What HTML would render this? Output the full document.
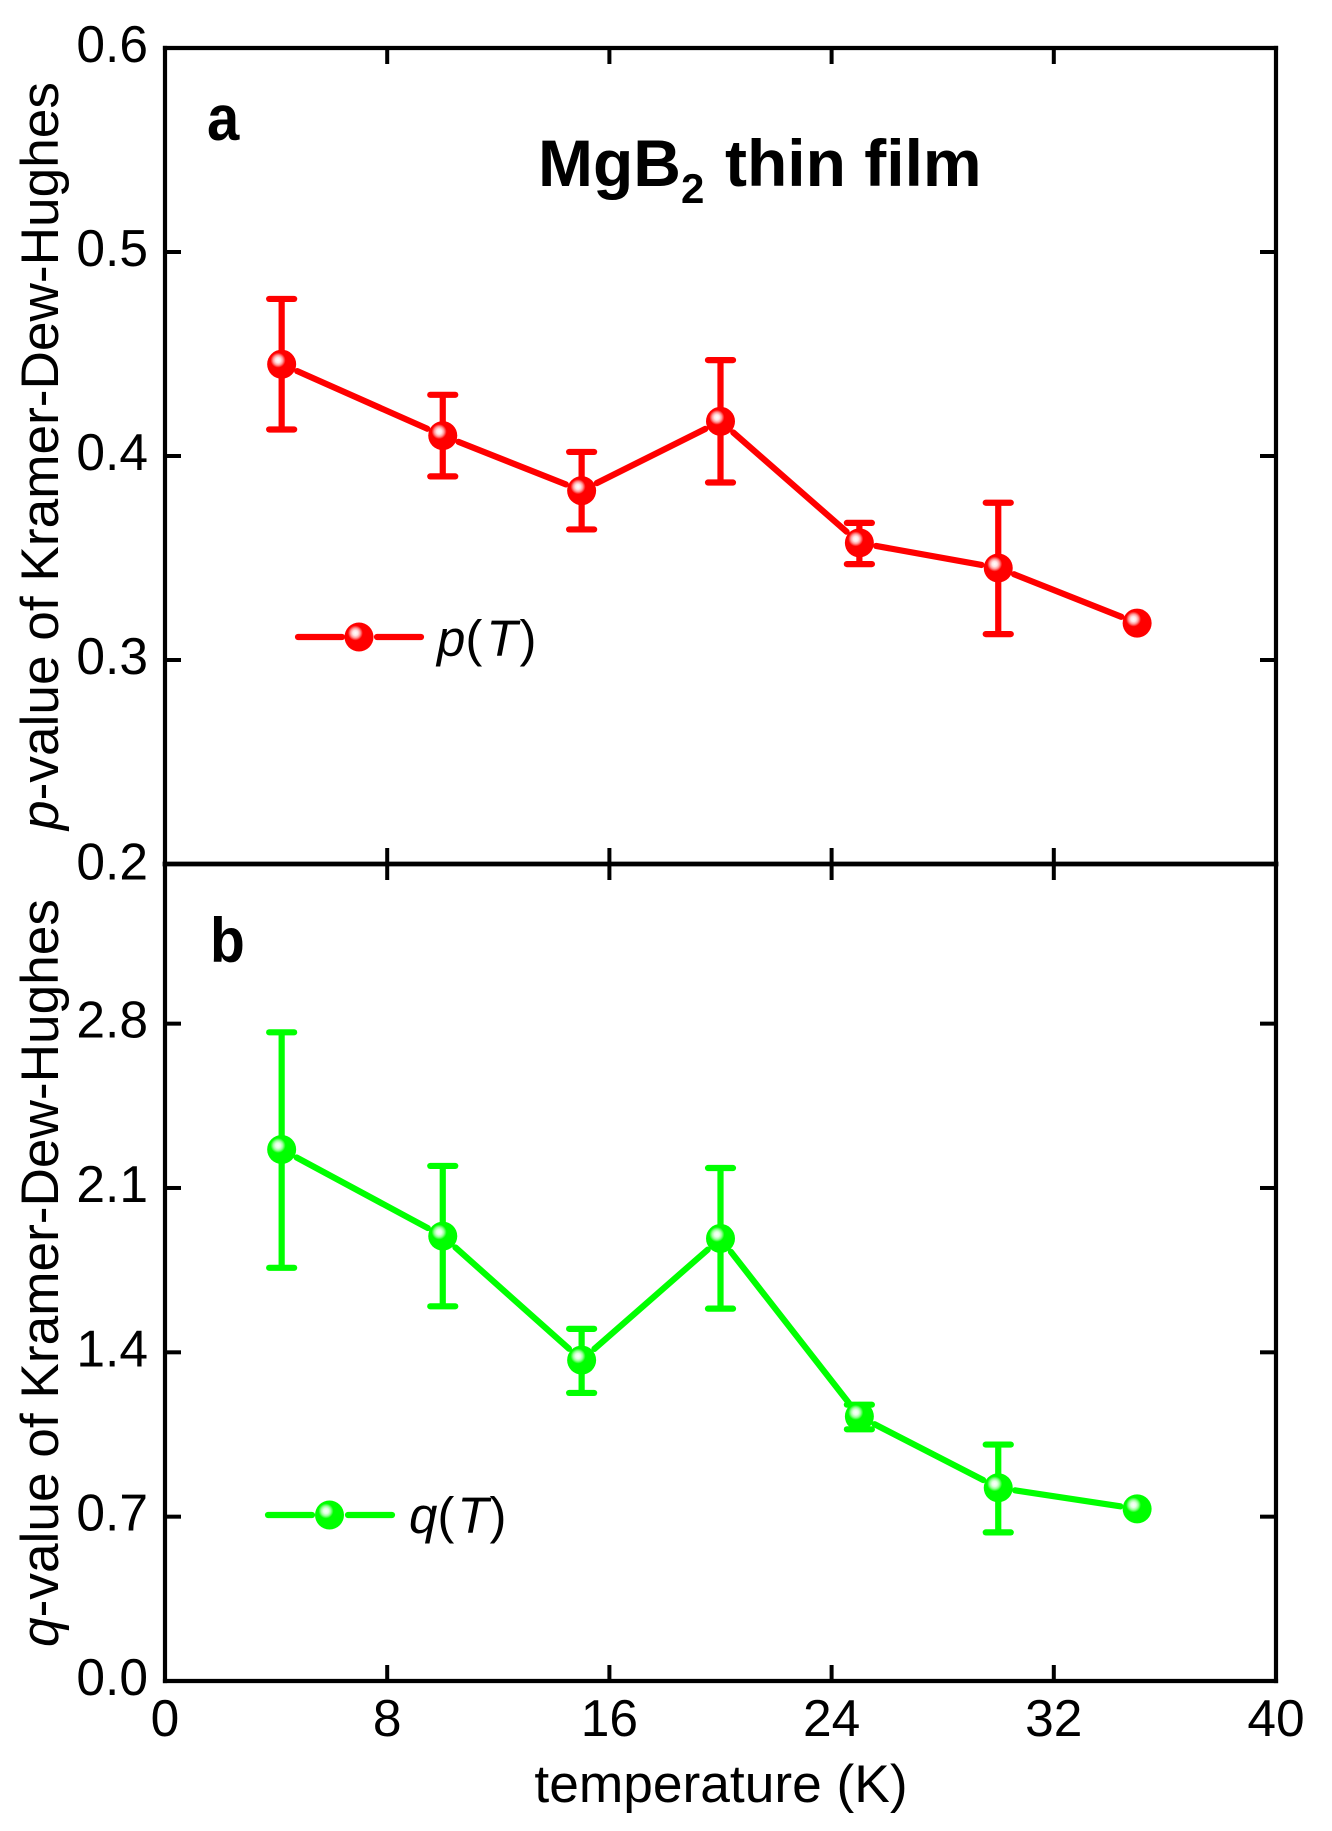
<!DOCTYPE html>
<html lang="en">
<head>
<meta charset="utf-8">
<title>MgB2 thin film Kramer-Dew-Hughes p and q values</title>
<style>
html,body{margin:0;padding:0;background:#fff;}
svg{display:block;font-family:"Liberation Sans",Arial,sans-serif;}
</style>
</head>
<body>
<svg id="chart" xmlns="http://www.w3.org/2000/svg" width="1332" height="1831" viewBox="0 0 1332 1831">
  <defs>
    <radialGradient id="redShine">
      <stop offset="0" stop-color="#ffffff"/>
      <stop offset="0.35" stop-color="#ffe6e6"/>
      <stop offset="0.65" stop-color="#ff9999"/>
      <stop offset="1" stop-color="#ff0000"/>
    </radialGradient>
    <radialGradient id="greenShine">
      <stop offset="0" stop-color="#ffffff"/>
      <stop offset="0.35" stop-color="#e6ffe6"/>
      <stop offset="0.65" stop-color="#99ff99"/>
      <stop offset="1" stop-color="#00ff00"/>
    </radialGradient>
  </defs>
  <rect width="1332" height="1831" fill="#fff"/>
  <g id="marks"></g>
  <g id="axes"></g>

  <text transform="translate(207,140) scale(1,1.1)" font-size="58" font-weight="bold">a</text>
  <text transform="translate(210,962) scale(1,1.1)" font-size="57" font-weight="bold">b</text>

  <text y="186" font-weight="bold" font-size="66" fill="#000"><tspan x="538">MgB</tspan><tspan x="681" y="203" font-size="42">2</tspan><tspan x="725" y="186">thin film</tspan></text>

  <text transform="translate(58,456) rotate(-90)" text-anchor="middle" font-size="53.2" fill="#000"><tspan font-style="italic">p</tspan>-value of Kramer-Dew-Hughes</text>
  <text transform="translate(58,1273) rotate(-90)" text-anchor="middle" font-size="53.2" fill="#000"><tspan font-style="italic">q</tspan>-value of Kramer-Dew-Hughes</text>
  <text x="721" y="1802" text-anchor="middle" font-size="53.3" fill="#000">temperature (K)</text>

  <g id="legend-p">
    <line x1="298" y1="637" x2="342" y2="637" stroke="#ff0000" stroke-width="6.2" stroke-linecap="round"/>
    <line x1="377" y1="637" x2="421" y2="637" stroke="#ff0000" stroke-width="6.2" stroke-linecap="round"/>
    <circle cx="359" cy="637" r="14.5" fill="#ff0000"/>
    <circle cx="355.4" cy="633" r="7.5" fill="url(#redShine)"/>
    <text x="437" y="656" font-size="51" fill="#000"><tspan font-style="italic">p</tspan><tspan>(</tspan><tspan dx="4" font-style="italic">T</tspan><tspan dx="2">)</tspan></text>
  </g>
  <g id="legend-q">
    <line x1="268" y1="1515" x2="312" y2="1515" stroke="#00ff00" stroke-width="6.2" stroke-linecap="round"/>
    <line x1="348" y1="1515" x2="392" y2="1515" stroke="#00ff00" stroke-width="6.2" stroke-linecap="round"/>
    <circle cx="329.5" cy="1515" r="14.5" fill="#00ff00"/>
    <circle cx="326" cy="1511" r="7.5" fill="url(#greenShine)"/>
    <text x="409" y="1533" font-size="51" fill="#000"><tspan font-style="italic">q</tspan><tspan>(</tspan><tspan dx="3" font-style="italic">T</tspan><tspan dx="1">)</tspan></text>
  </g>
</svg>
<script>
// ---- chart data ----
const temperatures = [4.2, 10, 15, 20, 25, 30, 35];
const pValues = [0.445, 0.410, 0.383, 0.417, 0.3574, 0.3451, 0.3181];
const pErrUpper = [0.477, 0.430, 0.402, 0.447, 0.3672, 0.3771, 0.3181];
const pErrLower = [0.413, 0.390, 0.364, 0.387, 0.3470, 0.3127, 0.3181];
const qValues = [2.264, 1.895, 1.367, 1.885, 1.127, 0.823, 0.733];
const qErrUpper = [2.763, 2.194, 1.500, 2.185, 1.177, 1.007, 0.733];
const qErrLower = [1.760, 1.596, 1.227, 1.586, 1.072, 0.633, 0.733];
const xTicks = [0, 8, 16, 24, 32, 40];
const pTicks = [0.2, 0.3, 0.4, 0.5, 0.6];
const qTicks = [0.0, 0.7, 1.4, 2.1, 2.8];

const SVGNS = 'http://www.w3.org/2000/svg';
const plotLeft = 165, plotRight = 1276, plotTop = 48, plotMid = 864, plotBottom = 1681;
const xMin = 0, xMax = 40, pMin = 0.2, pMax = 0.6, qMin = 0, qMax = 3.48;
function xAxis(v) { return plotLeft + (v - xMin) / (xMax - xMin) * (plotRight - plotLeft); }
function pAxis(v) { return plotMid - (v - pMin) / (pMax - pMin) * (plotMid - plotTop); }
function qAxis(v) { return plotBottom - (v - qMin) / (qMax - qMin) * (plotBottom - plotMid); }

function make(tag, parent) {
  const el = document.createElementNS(SVGNS, tag);
  parent.appendChild(el);
  return el;
}
function drawLine(parent, x1, y1, x2, y2, color, width, cap) {
  const el = make('line', parent);
  el.setAttribute('x1', x1);
  el.setAttribute('y1', y1);
  el.setAttribute('x2', x2);
  el.setAttribute('y2', y2);
  el.setAttribute('stroke', color);
  el.setAttribute('stroke-width', width);
  el.setAttribute('stroke-linecap', cap);
  return el;
}
function drawSeries(prefix, values, upper, lower, yAxis, color, shine) {
  const marks = document.getElementById('marks');
  const trim = 17;
  const lineWidth = 6.2;
  // connecting segments, stopped short of each marker
  for (let i = 0; i < values.length - 1; i++) {
    const x1 = xAxis(temperatures[i]), y1 = yAxis(values[i]);
    const x2 = xAxis(temperatures[i + 1]), y2 = yAxis(values[i + 1]);
    const len = Math.hypot(x2 - x1, y2 - y1);
    const ux = (x2 - x1) / len, uy = (y2 - y1) / len;
    const seg = drawLine(marks, x1 + ux * trim, y1 + uy * trim, x2 - ux * trim, y2 - uy * trim, color, lineWidth, 'round');
    
    
  }
  for (let i = 0; i < values.length; i++) {
    const cx = xAxis(temperatures[i]), cy = yAxis(values[i]);
    const top = yAxis(upper[i]), bottom = yAxis(lower[i]);
    const stem = drawLine(marks, cx, top, cx, bottom, color, lineWidth, 'butt');
    
    
    if (cy - top > 3) {
      const capTop = drawLine(marks, cx - 12.5, top, cx + 12.5, top, color, lineWidth, 'round');
      
      
    }
    if (bottom - cy > 3) {
      const capBottom = drawLine(marks, cx - 12.5, bottom, cx + 12.5, bottom, color, lineWidth, 'round');
      
      
    }
    const dot = make('circle', marks);
    dot.setAttribute('cx', cx);
    dot.setAttribute('cy', cy);
    dot.setAttribute('r', 14.5);
    dot.setAttribute('fill', color);
    
    
    const glint = make('circle', marks);
    glint.setAttribute('cx', cx - 3.6);
    glint.setAttribute('cy', cy - 4);
    glint.setAttribute('r', 7.5);
    glint.setAttribute('fill', 'url(#' + shine + ')');
    
    
  }
}
drawSeries('p-series', pValues, pErrUpper, pErrLower, pAxis, '#ff0000', 'redShine');
drawSeries('q-series', qValues, qErrUpper, qErrLower, qAxis, '#00ff00', 'greenShine');

const axes = document.getElementById('axes');
function frame(x1, y1, x2, y2, width, name) {
  const el = drawLine(axes, x1, y1, x2, y2, '#000', width, 'square');
  
  
}
frame(plotLeft, plotTop, plotRight, plotTop, 4.2, 'plot-frame-top');
frame(plotLeft, plotBottom, plotRight, plotBottom, 4.2, 'plot-frame-bottom');
frame(plotLeft, plotTop, plotLeft, plotBottom, 4.2, 'plot-frame-left');
frame(plotRight, plotTop, plotRight, plotBottom, 4.2, 'plot-frame-right');
frame(plotLeft, plotMid, plotRight, plotMid, 4.8, 'panel-divider');

const tickLen = 16;
function label(text, x, y, anchor, name) {
  const t = make('text', axes);
  t.setAttribute('x', x);
  t.setAttribute('y', y);
  t.setAttribute('text-anchor', anchor);
  t.setAttribute('font-size', 51.5);
  t.setAttribute('fill', '#000');
  
  
  t.textContent = text;
}
xTicks.forEach(function (v) {
  const x = xAxis(v);
  if (v !== xMin && v !== xMax) {
    const a = drawLine(axes, x, plotTop, x, plotTop + tickLen, '#000', 4, 'butt');
    
    
    const b = drawLine(axes, x, plotMid - tickLen, x, plotMid + tickLen, '#000', 4, 'butt');
    
    
    const c = drawLine(axes, x, plotBottom - tickLen, x, plotBottom, '#000', 4, 'butt');
    
    
  }
  label(String(v), x, 1736, 'middle', 'x-tick-label');
});
function yTicks(list, yAxis, lo, hi, prefix, extra) {
  list.forEach(function (v) {
    const y = yAxis(v);
    if (v !== lo && v !== hi) {
      const a = drawLine(axes, plotLeft, y, plotLeft + tickLen, y, '#000', 4, 'butt');
      
      
      const b = drawLine(axes, plotRight - tickLen, y, plotRight, y, '#000', 4, 'butt');
      
      
    }
    label(v.toFixed(1), 148, y + 14 + (v === extra ? 1.5 : 0), 'end', prefix + '-tick-label');
  });
}
yTicks(pTicks, pAxis, pMin, pMax, 'p-axis', pMin);
yTicks(qTicks, qAxis, qMin, qMax, 'q-axis', null);
</script>
</body>
</html>
